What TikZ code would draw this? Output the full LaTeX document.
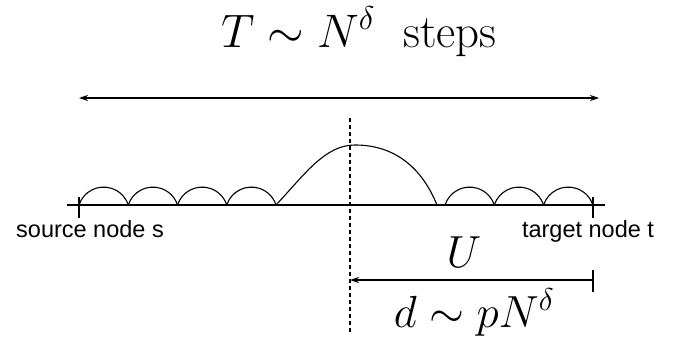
\documentclass[tikz,border=0pt]{standalone}
\usepackage{fix-cm}
\usepackage{fontspec}
\newfontfamily\nodefont{Liberation Sans}
\usetikzlibrary{arrows.meta}

\begin{document}
\begin{tikzpicture}[x=1pt, y=1pt, line width=1.1pt,
    big/.style={font=\fontsize{45}{50}\selectfont, inner sep=0pt, anchor=base},
    endlabel/.style={font=\nodefont\fontsize{23.5}{26}\selectfont, inner sep=0pt, anchor=base},
    tip/.style={-{Stealth[length=9pt, width=6pt]}},
    cut/.style={dash pattern=on 3.5pt off 3.5pt, line width=1.6pt}]
  \useasboundingbox (0,0) rectangle (689,360);
  % Title and total length
  \node[big, font=\fontsize{47}{52}\selectfont] (title) at (359,313) {$T\sim N^\delta$\ \ steps};
  \coordinate (ta) at (79,262);
  \coordinate (tb) at (599,262);
  \draw[{Stealth[length=9pt, width=6pt]}-{Stealth[length=9pt, width=6pt]}] (ta) -- (tb);
  % Line of nodes
  \coordinate (s) at (79,155);
  \coordinate (t) at (593,155);
  \draw ([xshift=-12]s) -- ([xshift=12]t);
  \draw ([yshift=8]s) -- ([yshift=-13]s);
  \draw ([yshift=8]t) -- ([yshift=-13]t);
  \node[endlabel] (src) at (90,123) {source node s};
  \node[endlabel] (tgt) at (588,123) {target node t};
  % Short hops
  \foreach \i in {0,...,3}
    \draw (79+49.25*\i,155) arc[start angle=162, end angle=18, radius=25.9];
  \foreach \i in {0,...,2}
    \draw (445+49.3*\i,155) arc[start angle=162, end angle=18, radius=25.9];
  % Long hop
  \draw (276,155) .. controls (305,186) and (325,215) .. (355,215)
    .. controls (395,215) and (422,192) .. (437,155);
  % Cut and remaining distance
  \coordinate (ctop) at (350,242);
  \coordinate (cbot) at (350,26);
  \draw[cut] (ctop) -- (cbot);
  \coordinate (ua) at (593,80);
  \coordinate (ub) at (350,80);
  \draw[tip] (ua) -- (ub);
  \draw ([yshift=10]ua) -- ([yshift=-12]ua);
  \node[big] (ulabel) at (464,93) {$U$};
  \node[big] (dlabel) at (474,33) {$d\sim pN^\delta$};
\end{tikzpicture}
\end{document}
